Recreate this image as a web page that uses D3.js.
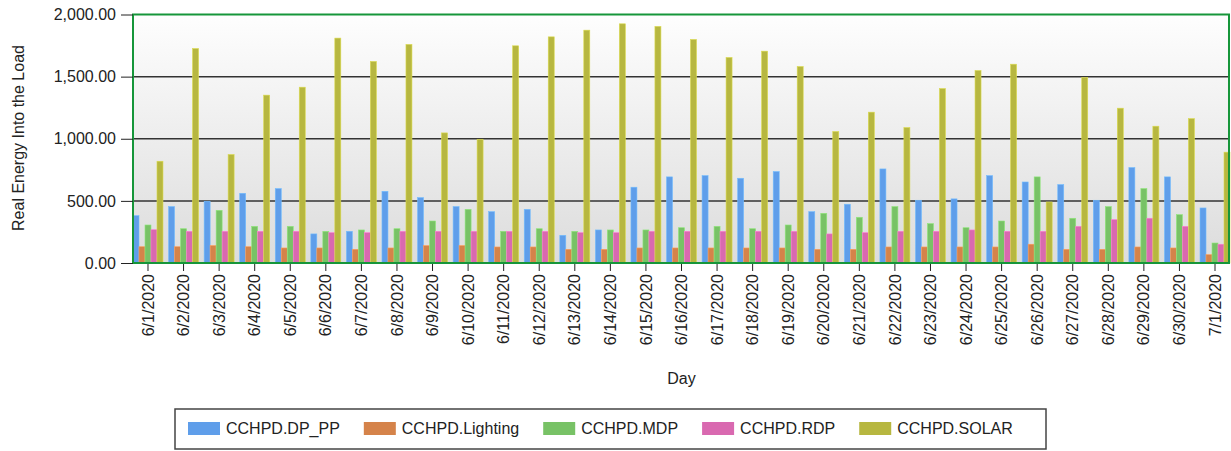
<!DOCTYPE html>
<html lang="en">
    <head>
        <meta charset="utf-8">
        <title>Real Energy Into the Load</title>
        <script type="text/javascript" src="https://d3js.org/d3.v7.min.js"></script>
        <style>
            body { margin: 0; background: #fff; }
            text { font-family: "Liberation Sans", Arial, sans-serif; fill: #222; }
        </style>
    </head>
    <body>
        <script type="text/javascript">

            var w = 1231;
            var h = 451;

            // data
            var days = ["6/1/2020", "6/2/2020", "6/3/2020", "6/4/2020", "6/5/2020", "6/6/2020", "6/7/2020",
                        "6/8/2020", "6/9/2020", "6/10/2020", "6/11/2020", "6/12/2020", "6/13/2020", "6/14/2020",
                        "6/15/2020", "6/16/2020", "6/17/2020", "6/18/2020", "6/19/2020", "6/20/2020", "6/21/2020",
                        "6/22/2020", "6/23/2020", "6/24/2020", "6/25/2020", "6/26/2020", "6/27/2020", "6/28/2020",
                        "6/29/2020", "6/30/2020", "7/1/2020"];

            var seriesNames = ["CCHPD.DP_PP", "CCHPD.Lighting", "CCHPD.MDP", "CCHPD.RDP", "CCHPD.SOLAR"];
            var seriesColors = ["#5f9eea", "#d5834a", "#78c266", "#d969b0", "#b7b740"];

            var dpPP = [381, 454, 497, 561, 599, 234, 255, 577, 526, 454, 413, 432, 223, 266, 610, 693,
                        703, 682, 736, 413, 473, 757, 505, 516, 703, 652, 631, 505, 768, 693, 443];
            var lighting = [131, 131, 140, 131, 121, 121, 110, 121, 140, 140, 129, 129, 110, 110, 121, 121,
                            121, 121, 121, 110, 110, 129, 129, 129, 129, 151, 110, 110, 129, 121, 67];
            var mdp = [306, 276, 424, 295, 295, 255, 266, 276, 338, 432, 255, 276, 255, 266, 266, 284,
                       295, 276, 306, 400, 368, 454, 317, 284, 338, 693, 360, 454, 599, 389, 161];
            var rdp = [268, 255, 255, 255, 255, 244, 244, 255, 255, 255, 255, 255, 244, 244, 255, 255,
                       255, 255, 255, 234, 244, 255, 255, 266, 255, 255, 295, 349, 360, 295, 151];
            var solar = [819, 1726, 873, 1351, 1415, 1810, 1622, 1759, 1047, 996, 1748, 1820, 1874, 1925, 1904, 1799,
                         1654, 1705, 1581, 1058, 1214, 1090, 1404, 1549, 1600, 491, 1493, 1246, 1101, 1162, 892];

            var yTicks = [0, 500, 1000, 1500, 2000];
            var gridValues = [500, 1000, 1500];

            var seriesValues = [dpPP, lighting, mdp, rdp, solar];

            var plotLeft = 133, plotRight = 1230, plotTop = 14.5, plotBottom = 263;

            var svg = d3.select("body")
                        .append("svg")
                        .attr("width", w)
                        .attr("height", h);

            var xScale = d3.scaleBand()
                           .domain(days)
                           .range([plotLeft, plotRight])
                           .paddingInner(0.157)
                           .paddingOuter(0);

            var xInner = d3.scaleBand()
                           .domain(seriesNames)
                           .range([0, xScale.bandwidth()]);

            var yScale = d3.scaleLinear()
                           .domain([0, 2000])
                           .range([plotBottom, plotTop]);

            var color = d3.scaleOrdinal()
                          .domain(seriesNames)
                          .range(seriesColors);

            // plot background gradient
            var grad = svg.append("defs").append("linearGradient")
                          .attr("id", "bg")
                          .attr("x1", 0).attr("y1", 0)
                          .attr("x2", 0).attr("y2", 1);
            grad.append("stop").attr("offset", "0%").attr("stop-color", "#fefefe");
            grad.append("stop").attr("offset", "100%").attr("stop-color", "#dcdcdc");

            svg.append("rect")
               .attr("x", plotLeft)
               .attr("y", plotTop)
               .attr("width", plotRight - plotLeft)
               .attr("height", plotBottom - plotTop)
               .attr("fill", "url(#bg)");

            // grid lines
            svg.selectAll("line.grid")
               .data(gridValues)
               .enter()
               .append("line")
               .attr("class", "grid")
               .attr("x1", plotLeft)
               .attr("x2", plotRight)
               .attr("y1", function(d) { return yScale(d); })
               .attr("y2", function(d) { return yScale(d); })
               .attr("stroke", "#333")
               .attr("stroke-width", 1.5);

            // build rows per day
            var rows = days.map(function(day, i) {
                return {
                    day: day,
                    values: seriesNames.map(function(name, j) {
                        return { name: name, value: seriesValues[j][i] };
                    })
                };
            });

            var groups = svg.selectAll("g.day")
                            .data(rows)
                            .enter()
                            .append("g")
                            .attr("class", "day")
                            .attr("transform", function(d) { return "translate(" + xScale(d.day) + ",0)"; });

            groups.selectAll("rect")
                  .data(function(d) { return d.values; })
                  .enter()
                  .append("rect")
                  .attr("x", function(d) { return xInner(d.name); })
                  .attr("width", xInner.bandwidth())
                  .attr("y", function(d) { return yScale(d.value); })
                  .attr("height", function(d) { return plotBottom - yScale(d.value); })
                  .attr("fill", function(d) { return color(d.name); })
                  .attr("stroke", function(d) { return d3.color(color(d.name)).brighter(0.5); })
                  .attr("stroke-width", 0.6);

            // plot border
            svg.append("rect")
               .attr("x", plotLeft)
               .attr("y", plotTop)
               .attr("width", plotRight - plotLeft - 1)
               .attr("height", plotBottom - plotTop)
               .attr("fill", "none")
               .attr("stroke", "#16963a")
               .attr("stroke-width", 2);

            // axes
            var xAxis = d3.axisBottom(xScale)
                          .tickSize(7)
                          .tickSizeOuter(0);

            var gx = svg.append("g")
                        .attr("transform", "translate(0," + (plotBottom + 1) + ")")
                        .call(xAxis);
            gx.select(".domain").remove();
            gx.selectAll("line").attr("stroke", "#222");
            gx.selectAll("text")
              .attr("transform", "rotate(-90)")
              .attr("x", -10)
              .attr("y", 0)
              .attr("dy", "0.35em")
              .style("text-anchor", "end")
              .style("font-size", "16px")
              .style("font-family", "'Liberation Sans', Arial, sans-serif")
              .attr("fill", "#222");

            var yAxis = d3.axisLeft(yScale)
                          .tickValues(yTicks)
                          .tickSize(12)
                          .tickPadding(5)
                          .tickFormat(d3.format(",.2f"));

            var gy = svg.append("g")
                        .attr("transform", "translate(" + plotLeft + ",0)")
                        .call(yAxis);
            gy.select(".domain").remove();
            gy.selectAll("line").attr("stroke", "#222");
            gy.selectAll("text")
              .style("font-size", "16px")
              .style("font-family", "'Liberation Sans', Arial, sans-serif")
              .attr("fill", "#222");

            // axis titles
            svg.append("text")
               .attr("transform", "rotate(-90)")
               .attr("x", -138)
               .attr("y", 24)
               .style("text-anchor", "middle")
               .style("font-size", "16px")
               .text("Real Energy Into the Load");

            svg.append("text")
               .attr("x", (plotLeft + plotRight) / 2)
               .attr("y", 384)
               .style("text-anchor", "middle")
               .style("font-size", "16px")
               .text("Day");

            // legend
            var legend = svg.append("g");
            legend.append("rect")
                  .attr("x", 175)
                  .attr("y", 409)
                  .attr("width", 871)
                  .attr("height", 40)
                  .attr("fill", "#fff")
                  .attr("stroke", "#444")
                  .attr("stroke-width", 1.5);

            var lx = 188;
            seriesNames.forEach(function(name) {
                legend.append("rect")
                      .attr("x", lx)
                      .attr("y", 422)
                      .attr("width", 32)
                      .attr("height", 13)
                      .attr("fill", color(name));
                var t = legend.append("text")
                              .attr("x", lx + 38)
                              .attr("y", 434)
                              .style("font-size", "16px")
                              .text(name);
                lx = lx + 38 + t.node().getComputedTextLength() + 24;
            });

        </script>
    </body>
</html>
